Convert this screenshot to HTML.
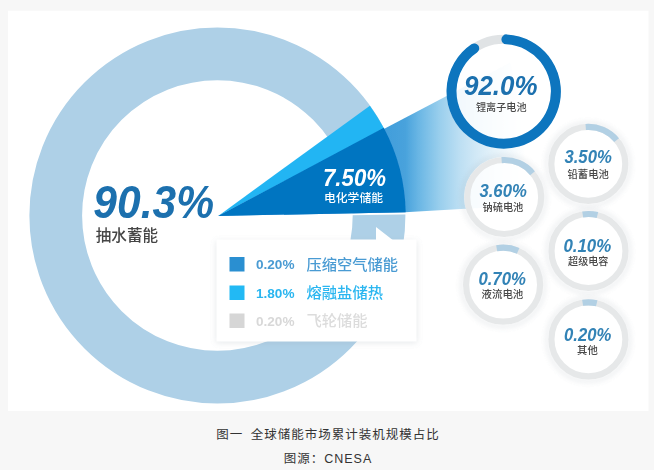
<!DOCTYPE html>
<html lang="zh-CN">
<head>
<meta charset="utf-8">
<title>图一 全球储能市场累计装机规模占比</title>
<style>
html,body{margin:0;padding:0;background:#f7f7f7;}
body{width:654px;height:470px;position:relative;overflow:hidden;font-family:"Liberation Sans","Noto Sans CJK SC",sans-serif;}
svg text{font-family:"Liberation Sans","Noto Sans CJK SC",sans-serif;}
svg text.n{font-weight:bold;font-style:italic;}
svg text.nb{font-weight:bold;}
svg text.c{font-weight:500;}
.cap{position:absolute;left:0;width:654px;text-align:center;font-size:12.5px;line-height:24px;letter-spacing:1px;word-spacing:3px;color:#333;margin:0;padding-left:2px;box-sizing:border-box;}
#c1{top:423px;}
#c2{top:447px;}
</style>
</head>
<body>
<svg width="654" height="470" viewBox="0 0 654 470" style="position:absolute;left:0;top:0">
<defs>
<linearGradient id="fan" gradientUnits="userSpaceOnUse" x1="380" y1="0" x2="525" y2="0">
<stop offset="0.0000" stop-color="#409ddb"/>
<stop offset="0.1724" stop-color="#48a2dc"/>
<stop offset="0.2759" stop-color="#6db8e5"/>
<stop offset="0.4138" stop-color="#9acfed"/>
<stop offset="0.5517" stop-color="#bddff3"/>
<stop offset="0.6552" stop-color="#d0e8f6"/>
<stop offset="0.7931" stop-color="#e6f3fa"/>
<stop offset="1.0000" stop-color="#ffffff"/>
</linearGradient>
<filter id="sh" x="-10%" y="-15%" width="120%" height="135%"><feGaussianBlur stdDeviation="3"/></filter>
<filter id="sh2" x="-20%" y="-20%" width="140%" height="140%"><feGaussianBlur stdDeviation="2"/></filter>
<filter id="b1"><feGaussianBlur stdDeviation="0.75"/></filter>
<clipPath id="clipimg"><rect x="8" y="10.700" width="640.500" height="400.300"/></clipPath>
</defs>
<rect x="0" y="0" width="654" height="470" fill="#f7f7f7"/>
<rect x="8" y="10.700" width="640.500" height="400.300" fill="#ffffff"/>
<g clip-path="url(#clipimg)" filter="url(#b1)">
<circle cx="217.4" cy="215.5" r="161.65" fill="none" stroke="#aed0e7" stroke-width="52.69999999999999"/>
<path d="M218.2,217.1 L418.16,214.26 L418.16,212.06 L218.2,215.9 Z" fill="#ffffff"/>
<path d="M218.2,215.9 L405,212.300 L540,204.500 L510.38,62.50 Z" fill="url(#fan)"/>
<path d="M218.20,215.90 L384.51,129.32 A187.5,187.5 0 0 0 369.89,105.69 Z" fill="#23b5f3"/>
<path d="M218.20,215.90 L405.67,212.30 A187.5,187.5 0 0 0 383.75,127.87 Z" fill="#0474c1"/>
<!-- legend -->
<rect x="216" y="241" width="201" height="102" fill="#9aa7b0" opacity="0.24" filter="url(#sh)"/>
<rect x="216.500" y="239.500" width="200" height="102" fill="#ffffff"/>
<path d="M376,227 L376,241 L394,241 Z" fill="#ffffff"/>
<rect x="229.500" y="257" width="15" height="14.500" fill="#2b8fd1"/>
<rect x="229.500" y="285.500" width="15" height="14.500" fill="#22b9f4"/>
<rect x="229.500" y="313.500" width="15" height="14.500" fill="#d6d6d6"/>
<circle cx="503.7" cy="91.5" r="57" fill="#ffffff" fill-opacity="0.8"/>
<circle cx="503.7" cy="91.5" r="52.200" fill="none" stroke="#e0e3e5" stroke-width="9"/>
<path d="M506.43,39.37 A52.2,52.2 0 1 1 474.21,48.43" fill="none" stroke="#0b74be" stroke-width="10" stroke-linecap="round"/>
<circle cx="588.3" cy="164.4" r="41.5" fill="none" stroke="#8a97a3" stroke-width="5" opacity="0.11" filter="url(#sh2)"/>
<circle cx="588.3" cy="163.9" r="40" fill="#ffffff" fill-opacity="0.85"/>
<circle cx="588.3" cy="163.9" r="37" fill="none" stroke="#e6e8e9" stroke-width="6.200"/>
<path d="M585.72,126.99 A37,37 0 0 1 616.64,140.12" fill="none" stroke="#b2d0e4" stroke-width="6.200"/>
<circle cx="504.2" cy="197.5" r="41.5" fill="none" stroke="#8a97a3" stroke-width="5" opacity="0.11" filter="url(#sh2)"/>
<circle cx="504.2" cy="197.0" r="40" fill="#ffffff" fill-opacity="0.85"/>
<circle cx="504.2" cy="197.0" r="37" fill="none" stroke="#e6e8e9" stroke-width="6.200"/>
<path d="M501.62,160.09 A37,37 0 0 1 532.54,173.22" fill="none" stroke="#b2d0e4" stroke-width="6.200"/>
<circle cx="588.5" cy="251.5" r="41.5" fill="none" stroke="#8a97a3" stroke-width="5" opacity="0.11" filter="url(#sh2)"/>
<circle cx="588.5" cy="251.0" r="40" fill="#ffffff" fill-opacity="0.85"/>
<circle cx="588.5" cy="251.0" r="37" fill="none" stroke="#e6e8e9" stroke-width="6.200"/>
<path d="M582.71,214.46 A37,37 0 0 1 597.45,215.10" fill="none" stroke="#b2d0e4" stroke-width="6.200"/>
<circle cx="503.1" cy="285.2" r="41.5" fill="none" stroke="#8a97a3" stroke-width="5" opacity="0.11" filter="url(#sh2)"/>
<circle cx="503.1" cy="284.7" r="40" fill="#ffffff" fill-opacity="0.85"/>
<circle cx="503.1" cy="284.7" r="37" fill="none" stroke="#e6e8e9" stroke-width="6.200"/>
<path d="M496.68,248.26 A37,37 0 0 1 518.15,250.90" fill="none" stroke="#b2d0e4" stroke-width="6.200"/>
<circle cx="588.4" cy="339.8" r="41.5" fill="none" stroke="#8a97a3" stroke-width="5" opacity="0.11" filter="url(#sh2)"/>
<circle cx="588.4" cy="339.3" r="40" fill="#ffffff" fill-opacity="0.85"/>
<circle cx="588.4" cy="339.3" r="37" fill="none" stroke="#e6e8e9" stroke-width="6.200"/>
<path d="M582.61,302.76 A37,37 0 0 1 596.72,303.25" fill="none" stroke="#b2d0e4" stroke-width="6.200"/>
</g>
<g filter="url(#b1)">
<text x="93.3" y="218" font-size="46.5" textLength="120.7" lengthAdjust="spacingAndGlyphs" fill="#1a6fae" class="n" >90.3%</text>
<text x="95.8" y="240.8" font-size="15.8" textLength="62.2" lengthAdjust="spacingAndGlyphs" fill="#444" class="c" >抽水蓄能</text>
<text x="323" y="186" font-size="23.5" textLength="63.0" lengthAdjust="spacingAndGlyphs" fill="#ffffff" class="n" >7.50%</text>
<text x="324" y="201.5" font-size="11.5" textLength="59.0" lengthAdjust="spacingAndGlyphs" fill="#ffffff" class="c" >电化学储能</text>
<text x="464" y="95.2" font-size="28" textLength="73.5" lengthAdjust="spacingAndGlyphs" fill="#1a6fae" class="n" >92.0%</text>
<text x="476" y="111.3" font-size="10.2" textLength="50.5" lengthAdjust="spacingAndGlyphs" fill="#4a4a4a" class="c" >锂离子电池</text>
<text x="256" y="269.200" font-size="13.500" textLength="38.500" lengthAdjust="spacingAndGlyphs" fill="#4a9bd3" class="nb">0.20%</text>
<text x="306.5" y="270" font-size="14.8" textLength="91.5" lengthAdjust="spacingAndGlyphs" fill="#4a9bd3" class="c" >压缩空气储能</text>
<text x="256" y="297.600" font-size="13.500" textLength="38.500" lengthAdjust="spacingAndGlyphs" fill="#2ab6f0" class="nb">1.80%</text>
<text x="306.5" y="298.4" font-size="14.8" textLength="76.5" lengthAdjust="spacingAndGlyphs" fill="#2ab6f0" class="c" >熔融盐储热</text>
<text x="256" y="325.600" font-size="13.500" textLength="38.500" lengthAdjust="spacingAndGlyphs" fill="#d8d8d8" class="nb">0.20%</text>
<text x="306.5" y="326.4" font-size="14.8" textLength="61.0" lengthAdjust="spacingAndGlyphs" fill="#dcdcdc" class="c" >飞轮储能</text>
<text x="564.4" y="163.1" font-size="17.5" textLength="47.4" lengthAdjust="spacingAndGlyphs" fill="#3383b6" class="n" >3.50%</text>
<text x="567.5" y="177.6" font-size="10.2" textLength="41.4" lengthAdjust="spacingAndGlyphs" fill="#484848" class="c" style="font-weight:500">铅蓄电池</text>
<text x="479.4" y="196.9" font-size="17.5" textLength="47.4" lengthAdjust="spacingAndGlyphs" fill="#3383b6" class="n" >3.60%</text>
<text x="482.5" y="210.6" font-size="10.2" textLength="40.8" lengthAdjust="spacingAndGlyphs" fill="#484848" class="c" style="font-weight:500">钠硫电池</text>
<text x="563.4" y="251.6" font-size="17.5" textLength="47.9" lengthAdjust="spacingAndGlyphs" fill="#3383b6" class="n" >0.10%</text>
<text x="568.1" y="264.6" font-size="10.2" textLength="40.2" lengthAdjust="spacingAndGlyphs" fill="#484848" class="c" style="font-weight:500">超级电容</text>
<text x="478.4" y="284.6" font-size="17.5" textLength="47.5" lengthAdjust="spacingAndGlyphs" fill="#3383b6" class="n" >0.70%</text>
<text x="481.5" y="297.6" font-size="10.2" textLength="41.8" lengthAdjust="spacingAndGlyphs" fill="#484848" class="c" style="font-weight:500">液流电池</text>
<text x="564.0" y="341.0" font-size="17.5" textLength="47.3" lengthAdjust="spacingAndGlyphs" fill="#3383b6" class="n" >0.20%</text>
<text x="577.1" y="354.0" font-size="10.2" textLength="20.7" lengthAdjust="spacingAndGlyphs" fill="#484848" class="c" style="font-weight:500">其他</text>
</g>
</svg>

<p class="cap" id="c1">图一 全球储能市场累计装机规模占比</p>
<p class="cap" id="c2">图源：CNESA</p>
</body>
</html>
